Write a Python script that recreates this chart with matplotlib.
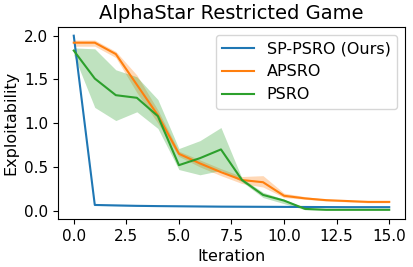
import matplotlib
matplotlib.use("Agg")
import matplotlib.pyplot as plt
import numpy as np

iterations = np.arange(16)

sp_psro = [2.0, 0.065, 0.06, 0.055, 0.052, 0.05, 0.048, 0.046, 0.045, 0.044, 0.043, 0.042, 0.041, 0.04, 0.04, 0.04]
sp_psro_lo = [1.99, 0.06, 0.055, 0.05, 0.048, 0.046, 0.044, 0.042, 0.041, 0.040, 0.039, 0.038, 0.037, 0.036, 0.036, 0.036]
sp_psro_hi = [2.0, 0.07, 0.065, 0.06, 0.056, 0.054, 0.052, 0.05, 0.049, 0.048, 0.047, 0.046, 0.045, 0.044, 0.044, 0.044]

apsro = [1.92, 1.92, 1.79, 1.44, 1.09, 0.65, 0.54, 0.44, 0.35, 0.325, 0.17, 0.14, 0.12, 0.11, 0.10, 0.10]
apsro_lo = [1.88, 1.88, 1.75, 1.35, 1.00, 0.62, 0.50, 0.40, 0.31, 0.27, 0.15, 0.13, 0.11, 0.10, 0.09, 0.09]
apsro_hi = [1.95, 1.95, 1.82, 1.55, 1.15, 0.68, 0.58, 0.48, 0.39, 0.40, 0.20, 0.16, 0.13, 0.12, 0.11, 0.11]

psro = [1.83, 1.51, 1.32, 1.29, 1.08, 0.52, 0.60, 0.70, 0.35, 0.18, 0.115, 0.02, 0.01, 0.01, 0.01, 0.01]
psro_lo = [1.78, 1.18, 1.03, 1.13, 0.94, 0.47, 0.41, 0.46, 0.33, 0.15, 0.08, 0.01, 0.005, 0.005, 0.005, 0.005]
psro_hi = [1.86, 1.85, 1.61, 1.53, 1.27, 0.71, 0.80, 0.95, 0.37, 0.21, 0.13, 0.03, 0.015, 0.015, 0.015, 0.015]

plt.rcParams['font.size'] = 11.5

fig, ax = plt.subplots(figsize=(4.13, 2.67), dpi=100)

ax.plot(iterations, sp_psro, color='C0', label='SP-PSRO (Ours)')
ax.fill_between(iterations, sp_psro_lo, sp_psro_hi, color='C0', alpha=0.3, linewidth=0)
ax.plot(iterations, apsro, color='C1', label='APSRO')
ax.fill_between(iterations, apsro_lo, apsro_hi, color='C1', alpha=0.3, linewidth=0)
ax.plot(iterations, psro, color='C2', label='PSRO')
ax.fill_between(iterations, psro_lo, psro_hi, color='C2', alpha=0.3, linewidth=0)

ax.set_title('AlphaStar Restricted Game', fontsize=14)
ax.set_xlabel('Iteration')
ax.set_ylabel('Exploitability')
ax.set_xticks(np.arange(0, 15.1, 2.5))
ax.set_yticks(np.arange(0, 2.01, 0.5))
ax.tick_params(labelsize=11)
ax.legend(fontsize=11.5)

fig.subplots_adjust(left=0.1404, right=0.9806, top=0.899, bottom=0.180)
fig.savefig('out.png')
